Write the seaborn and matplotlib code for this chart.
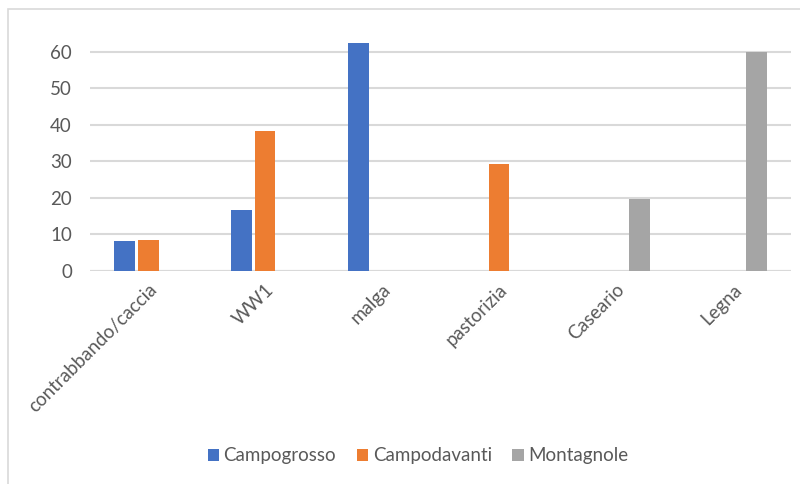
import matplotlib
matplotlib.use("Agg")
import matplotlib.pyplot as plt
import seaborn as sns
import pandas as pd
from matplotlib.patches import Rectangle

categories = ["contrabbando/caccia", "WW1", "malga", "pastorizia", "Caseario", "Legna"]
campogrosso = [8.3, 16.7, 62.4, 0, 0, 0]
campodavanti = [8.6, 38.2, 0, 29.3, 0, 0]
montagnole = [0, 0, 0, 0, 19.8, 60]
series_names = ["Campogrosso", "Campodavanti", "Montagnole"]
colors = ["#4472C4", "#ED7D31", "#A5A5A5"]
yticks = [0, 10, 20, 30, 40, 50, 60]

rows = []
for name, vals in zip(series_names, [campogrosso, campodavanti, montagnole]):
    for c, v in zip(categories, vals):
        rows.append({"cat": c, "serie": name, "val": v})
df = pd.DataFrame(rows)

sns.set_theme(style="white")
plt.rcParams["font.family"] = ["Lato", "DejaVu Sans"]

fig = plt.figure(figsize=(8, 4.84), dpi=100)
ax = fig.add_axes([90 / 800, 1 - 271 / 484, 701 / 800, 66 * 3.655 / 484])

sns.barplot(data=df, x="cat", y="val", hue="serie", order=categories,
            hue_order=series_names, palette=colors, width=0.61, gap=0.14,
            saturation=1, linewidth=0, ax=ax, legend=True)

ax.set_ylim(0, 66)
ax.set_xlim(-0.5, len(categories) - 0.5)
ax.set_yticks(yticks)
ax.set_yticklabels([str(t) for t in yticks], fontsize=13.5, color="#595959")
ax.grid(axis="y", color="#D9D9D9", linewidth=1.5)
ax.set_axisbelow(True)
for s in ["top", "right", "left", "bottom"]:
    ax.spines[s].set_visible(False)
ax.axhline(0, color="#D9D9D9", linewidth=1.5, zorder=0.5)
ax.set_xlabel("")
ax.set_ylabel("")
ax.tick_params(axis="y", length=0, pad=13)
ax.tick_params(axis="x", length=0, pad=7)
ax.set_xticks(range(len(categories)))
ax.set_xticklabels(categories, rotation=45, ha="right", va="top",
                   rotation_mode="anchor", fontsize=13.5, color="#595959")

leg = ax.legend(loc="center", bbox_to_anchor=(418 / 800, 1 - 456 / 484),
                bbox_transform=fig.transFigure, ncol=3, frameon=False,
                fontsize=13.5, handlelength=0.6, handleheight=0.6,
                handletextpad=0.25, columnspacing=1.1)
for t in leg.get_texts():
    t.set_color("#595959")

fig.patches.append(Rectangle((8 / 800, -0.1), 1.2, 1 - 9 / 484 + 0.1,
                             transform=fig.transFigure, fill=False,
                             edgecolor="#D9D9D9", linewidth=1.2))

fig.savefig("out.png", dpi=100, facecolor="white")
